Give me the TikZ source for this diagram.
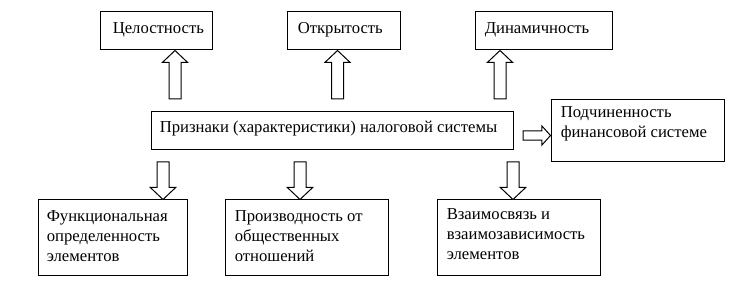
\documentclass[tikz,border=0pt]{standalone}
\usepackage{fontspec}
\setmainfont{Liberation Serif}
\usetikzlibrary{calc,fit}
\newcommand\lines[1]{\begin{tabular}[t]{@{}l@{}}#1\end{tabular}}
\tikzset{
  x=0.75pt, y=-0.75pt,
  box/.style={draw, line width=0.75pt, inner sep=0pt, rectangle},
  txt/.style={inner sep=0pt, font=\fontsize{12.5pt}{15pt}\selectfont, anchor=base west},
  arrowline/.style={draw, line width=0.75pt, fill=white, line join=miter}
}
\newcommand\blockarrow[5]{%
\draw[arrowline] let \p1=(#1), \p2=(#2), \n3={veclen(\x2-\x1,\y2-\y1)},
  \n4={(\x2-\x1)/\n3}, \n5={(\y2-\y1)/\n3} in
  ({\x1-#3*\n5},{\y1+#3*\n4})
  -- ({\x1+(\n3-#5)*\n4-#3*\n5},{\y1+(\n3-#5)*\n5+#3*\n4})
  -- ({\x1+(\n3-#5)*\n4-#4*\n5},{\y1+(\n3-#5)*\n5+#4*\n4})
  -- (\p2)
  -- ({\x1+(\n3-#5)*\n4+#4*\n5},{\y1+(\n3-#5)*\n5-#4*\n4})
  -- ({\x1+(\n3-#5)*\n4+#3*\n5},{\y1+(\n3-#5)*\n5-#3*\n4})
  -- ({\x1+#3*\n5},{\y1-#3*\n4}) -- cycle;}
\begin{document}
\begin{tikzpicture}
\useasboundingbox (0,0) rectangle (738,288);
% boxes
\node[box, fit={(100,12)(212,50)}] (c1) {};
\node[box, fit={(287,12)(400,50)}] (c2) {};
\node[box, fit={(475,12)(612,50)}] (c3) {};
\node[box, fit={(151,112)(513,150)}] (m) {};
\node[box, fit={(551,100)(724,162)}] (r) {};
\node[box, fit={(38,200)(187,275)}] (f1) {};
\node[box, fit={(225,200)(388,275)}] (f2) {};
\node[box, fit={(437,200)(600,275)}] (f3) {};
% texts
\node[txt] (tc1) at ($(c1.north west)+(13,22)$) {Целостность};
\node[txt] (tc2) at ($(c2.north west)+(11,22)$) {Открытость};
\node[txt] (tc3) at ($(c3.north west)+(10,22)$) {Динамичность};
\node[txt] (tm) at ($(m.north west)+(9,21)$) {Признаки (характеристики) налоговой системы};
\node[txt] (tr) at ($(r.north west)+(10,18)$) {\lines{Подчиненность\\финансовой системе}};
\node[txt] (tf1) at ($(f1.north west)+(9,22)$) {\lines{Функциональная\\определенность\\элементов}};
\node[txt] (tf2) at ($(f2.north west)+(10,22)$) {\lines{Производность от\\общественных\\отношений}};
\node[txt] (tf3) at ($(f3.north west)+(10,20)$) {\lines{Взаимосвязь и\\взаимозависимость\\элементов}};
% arrow bases
\coordinate (u1) at (175,99);
\coordinate (u2) at (337.5,99);
\coordinate (u3) at (500,99);
\coordinate (d1) at (163,162);
\coordinate (d2) at (300,162);
\coordinate (d3) at (513,162);
\coordinate (rr) at (523,135.5);
% arrows
\blockarrow{u1}{u1 |- c1.south}{4.5pt}{9.5pt}{9pt}
\blockarrow{u2}{u2 |- c2.south}{4.5pt}{9.5pt}{9pt}
\blockarrow{u3}{u3 |- c3.south}{4.5pt}{9.5pt}{9pt}
\blockarrow{d1}{d1 |- f1.north}{4.5pt}{9.5pt}{9pt}
\blockarrow{d2}{d2 |- f2.north}{4.5pt}{9.5pt}{9pt}
\blockarrow{d3}{d3 |- f3.north}{4.5pt}{9.5pt}{9pt}
\blockarrow{rr}{rr -| r.west}{3.5pt}{7.2pt}{6.5pt}
\end{tikzpicture}
\end{document}
